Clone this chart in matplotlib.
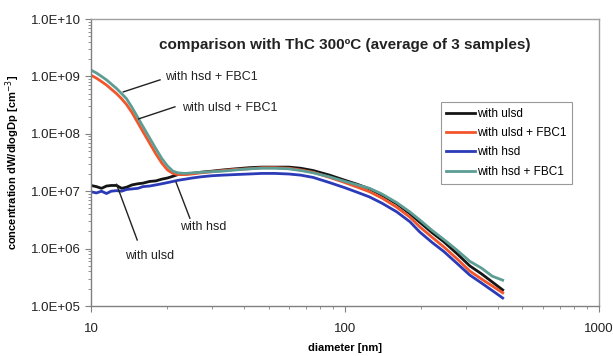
import numpy as np
import matplotlib
matplotlib.use("Agg")
import matplotlib.pyplot as plt
from matplotlib.ticker import FuncFormatter, LogLocator, NullFormatter

plt.rcParams['font.family'] = ['Liberation Sans', 'DejaVu Sans']

# particle diameter [nm]
diameter = [10, 10.5, 11, 11.5, 12, 12.6, 13.2, 13.8, 14.5, 15.3, 16, 17, 18, 19, 20,
            21, 22, 23.5, 25, 27, 30, 33, 37, 42, 47, 53, 60, 67, 75, 87, 100, 112,
            125, 140, 160, 180, 197, 220, 245, 275, 310, 345, 380, 418]

# log10 of concentration dW/dlogDp [cm-3]
log_ulsd = [7.10, 7.08, 7.05, 7.09, 7.10, 7.10, 7.05, 7.07, 7.11, 7.13, 7.14, 7.17, 7.18, 7.21, 7.23,
            7.26, 7.29, 7.30, 7.31, 7.33, 7.35, 7.37, 7.39, 7.41, 7.42, 7.42, 7.42, 7.40, 7.36, 7.28, 7.19, 7.12,
            7.04, 6.93, 6.78, 6.61, 6.46, 6.28, 6.12, 5.92, 5.70, 5.56, 5.42, 5.28]
log_ulsd_fbc = [9.02, 8.97, 8.91, 8.85, 8.78, 8.70, 8.61, 8.51, 8.37, 8.19, 8.04, 7.84, 7.65, 7.49, 7.37,
                7.31, 7.29, 7.29, 7.30, 7.32, 7.34, 7.36, 7.38, 7.39, 7.41, 7.41, 7.40, 7.37, 7.33, 7.24, 7.15, 7.07,
                6.99, 6.88, 6.72, 6.55, 6.38, 6.20, 6.03, 5.83, 5.61, 5.47, 5.35, 5.23]
log_hsd = [6.99, 6.97, 7.00, 6.96, 7.00, 7.01, 7.00, 7.03, 7.04, 7.05, 7.08, 7.09, 7.11, 7.13, 7.15,
           7.17, 7.19, 7.21, 7.23, 7.25, 7.27, 7.28, 7.29, 7.30, 7.31, 7.31, 7.30, 7.28, 7.24, 7.15, 7.06, 6.98,
           6.90, 6.79, 6.64, 6.47, 6.29, 6.11, 5.95, 5.75, 5.54, 5.40, 5.27, 5.14]
log_hsd_fbc = [9.11, 9.06, 9.00, 8.94, 8.87, 8.79, 8.70, 8.61, 8.46, 8.28, 8.13, 7.93, 7.74, 7.57, 7.44,
               7.35, 7.32, 7.31, 7.32, 7.33, 7.34, 7.35, 7.37, 7.39, 7.40, 7.40, 7.39, 7.36, 7.32, 7.25, 7.17, 7.11,
               7.05, 6.95, 6.80, 6.64, 6.50, 6.32, 6.16, 5.98, 5.78, 5.66, 5.52, 5.45]

series = [
    ("with ulsd", log_ulsd, "#151515"),
    ("with ulsd + FBC1", log_ulsd_fbc, "#f2552c"),
    ("with hsd", log_hsd, "#2b3bb8"),
    ("with hsd + FBC1", log_hsd_fbc, "#5c9d94"),
]

fig = plt.figure(figsize=(6.13, 3.56), dpi=100)
ax = fig.add_axes([0.1485, 0.1404, 0.8285, 0.8062])

for name, vals, col in series:
    ax.plot(diameter, 10 ** np.array(vals), color=col, lw=2.0, label=name)

ax.set_xscale("log")
ax.set_yscale("log")
ax.set_xlim(10, 1000)
ax.set_ylim(1e5, 1e10)

ax.yaxis.set_major_locator(LogLocator(base=10, numticks=10))
ax.yaxis.set_major_formatter(FuncFormatter(lambda v, p: f"{v:.1E}"))
ax.yaxis.set_minor_locator(LogLocator(base=10, subs=np.arange(2, 10), numticks=20))
ax.yaxis.set_minor_formatter(NullFormatter())
ax.xaxis.set_major_formatter(FuncFormatter(lambda v, p: f"{v:g}"))
ax.xaxis.set_minor_formatter(NullFormatter())

ax.tick_params(which="major", direction="out", length=4, width=0.8, color="#808080",
               labelsize=9.5, labelcolor="#222222")
ax.tick_params(which="minor", direction="out", length=2, width=0.6, color="#808080")
ax.tick_params(axis="x", pad=8)
for s in ax.spines.values():
    s.set_color("#a0a0a0")
    s.set_linewidth(1.0)
ax.spines["left"].set_color("#808080")
ax.spines["bottom"].set_color("#808080")

ax.set_xlabel("diameter [nm]", fontsize=8, fontweight="bold", labelpad=6)
ax.set_ylabel("concentration dW/dlogDp [cm$^{-3}$]", fontsize=8, fontweight="bold", labelpad=6)

ax.text(0.5, 0.91, "comparison with ThC 300ºC (average of 3 samples)", transform=ax.transAxes,
        ha="center", va="center", fontsize=11, fontweight="bold", color="#222222")

leg = ax.legend(loc="upper right", bbox_to_anchor=(0.947, 0.711), fontsize=8.5, frameon=True,
                fancybox=False, edgecolor="#808080", handlelength=2.4, handletextpad=0.15,
                labelspacing=0.62, borderpad=0.5, borderaxespad=0)
leg.get_frame().set_linewidth(0.8)

# callout labels, each with a thin leader line to its curve
callouts = [
    ("with hsd + FBC1", (13.4, 8.73), (18.7, 8.94), (19.6, 8.99), "center"),
    ("with ulsd + FBC1", (15.4, 8.26), (21.4, 8.47), (22.8, 8.45), "center"),
    ("with hsd", (21.6, 7.16), (24.5, 6.53), (22.4, 6.38), "center"),
    ("with ulsd", (12.6, 7.12), (15.2, 6.15), (13.6, 5.87), "center"),
]
for txt, (x0, y0), (x1, y1), (tx, ty), va in callouts:
    ax.plot([x0, x1], [10 ** y0, 10 ** y1], color="#222222", lw=1.0)
    ax.text(tx, 10 ** ty, txt, fontsize=9, va=va, ha="left", color="#222222")

fig.savefig("out.png", dpi=100)
